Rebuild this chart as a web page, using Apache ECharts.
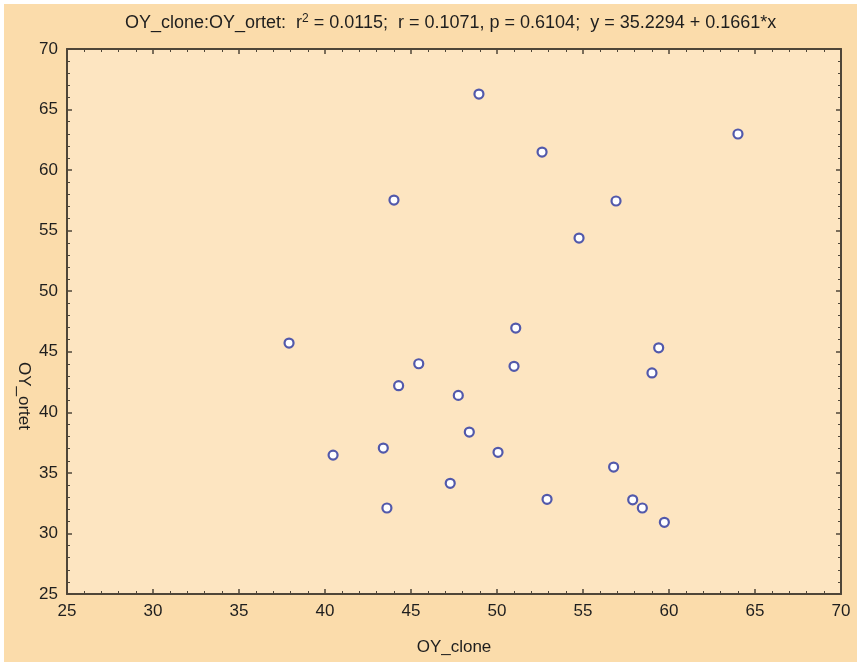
<!DOCTYPE html>
<html>
<head>
<meta charset="utf-8">
<script src="https://cdn.jsdelivr.net/npm/echarts@6/dist/echarts.min.js"></script>
<style>
html,body{margin:0;padding:0;background:#fff;}
#main{width:857px;height:662px;}
</style>
</head>
<body>
<div id="main"></div>
<script>
// OY_clone vs OY_ortet
var oyClone = [37.91, 40.47, 43.39, 43.60, 44.01, 44.28, 45.45, 47.28, 47.75, 48.39, 48.95, 50.06, 50.99,
	51.09, 52.62, 52.91, 54.77, 56.78, 56.92, 57.89, 58.45, 59.01, 59.40, 59.73, 64.01];
var oyOrtet = [45.72, 36.47, 37.05, 32.10, 57.53, 42.20, 44.01, 34.14, 41.40, 38.37, 66.28, 36.70, 43.80,
	46.96, 61.49, 32.82, 54.39, 35.48, 57.45, 32.78, 32.10, 43.25, 45.33, 30.92, 62.98];

var points = [];
for (var i = 0; i < oyClone.length; i++) {
	points.push([oyClone[i], oyOrtet[i]]);
}

var lineCol = '#4f4638';
var txtCol = '#1e1e1e';
var font = '"Liberation Sans", Arial, sans-serif';

function axisBase(showLabel) {
	return {
		type: 'value',
		min: 25,
		max: 70,
		interval: 5,
		axisLine: {show: true, onZero: false, lineStyle: {color: lineCol, width: 2}},
		axisTick: {show: true, inside: true, length: 5, lineStyle: {color: lineCol, width: 1.5}},
		minorTick: {show: true, splitNumber: 5, length: 3, lineStyle: {color: lineCol, width: 1}},
		splitLine: {show: false},
		axisLabel: {show: showLabel, color: txtCol, fontSize: 17, fontFamily: font}
	};
}

var xBottom = axisBase(true);
xBottom.position = 'bottom';
xBottom.axisLabel.margin = 9;
xBottom.name = 'OY_clone';
xBottom.nameLocation = 'middle';
xBottom.nameGap = 45;
xBottom.nameTextStyle = {color: txtCol, fontSize: 17, fontFamily: font};
var xTop = axisBase(false);
xTop.position = 'top';
var yLeft = axisBase(true);
yLeft.position = 'left';
yLeft.axisLabel.margin = 9;
var yRight = axisBase(false);
yRight.position = 'right';

var myChart = echarts.init(document.getElementById('main'));
myChart.setOption({
	backgroundColor: '#fff',
	animation: false,
	graphic: [
		{
			type: 'rect', z: -10, silent: true,
			shape: {x: 4, y: 4, width: 853, height: 658},
			style: {fill: '#fbdcab'}
		},
		{
			type: 'text', x: 32, y: 396, rotation: -Math.PI / 2,
			style: {text: 'OY_ortet', fill: txtCol, font: '17px ' + font, align: 'center', verticalAlign: 'top'}
		}
	],
	title: {
		text: 'OY_clone:OY_ortet:  r{sup|2} = 0.0115;  r = 0.1071, p = 0.6104;  y = 35.2294 + 0.1661*x',
		left: 120,
		top: 8,
		textStyle: {
			color: txtCol, fontSize: 18, fontWeight: 'normal', fontFamily: font,
			rich: {sup: {fontSize: 12, verticalAlign: 'top', padding: [0, 0, 9, 0], color: txtCol, fontFamily: font}}
		}
	},
	grid: {left: 67, right: 16, top: 49, bottom: 68, show: true, backgroundColor: '#fde5c1', borderWidth: 0},
	xAxis: [xBottom, xTop],
	yAxis: [yLeft, yRight],
	series: [{
		type: 'scatter',
		xAxisIndex: 0,
		yAxisIndex: 0,
		data: points,
		symbol: 'circle',
		symbolSize: 9,
		itemStyle: {color: '#ffffff', borderColor: '#5259ab', borderWidth: 2.2, opacity: 1}
	}]
});
</script>
</body>
</html>
